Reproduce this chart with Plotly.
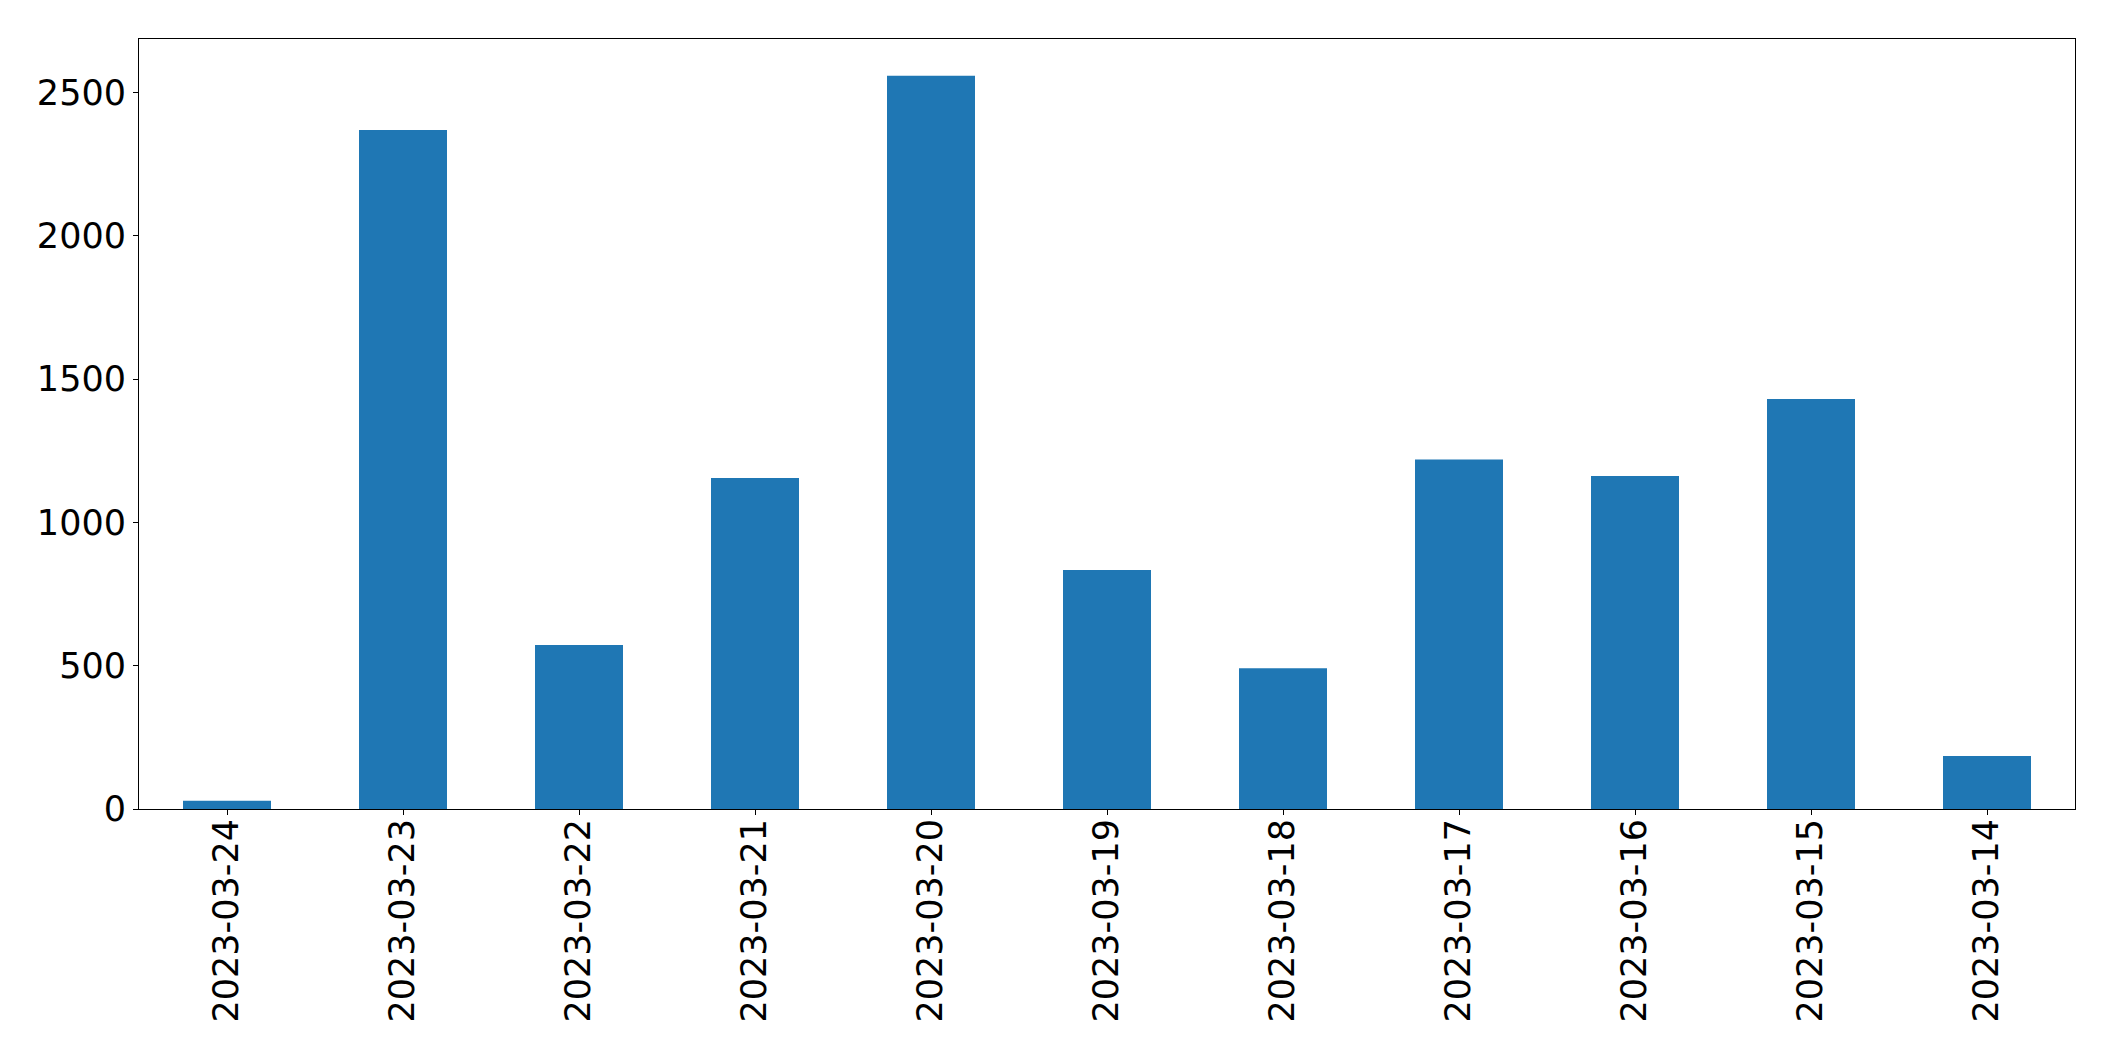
import plotly.graph_objects as go

dates = ["2023-03-24", "2023-03-23", "2023-03-22", "2023-03-21", "2023-03-20",
         "2023-03-19", "2023-03-18", "2023-03-17", "2023-03-16", "2023-03-15",
         "2023-03-14"]
counts = [29, 2369, 572, 1155, 2559, 834, 491, 1220, 1162, 1431, 185]
y_ticks = [0, 500, 1000, 1500, 2000, 2500]

fig = go.Figure(go.Bar(
    x=dates, y=counts, width=0.5,
    marker=dict(color="#1f77b4", line=dict(width=0)),
))

axis_common = dict(
    showline=True, mirror=True, linecolor="black", linewidth=1.1,
    ticks="outside", ticklen=5, tickwidth=1.1, tickcolor="black",
    showgrid=False, zeroline=False,
    tickfont=dict(family="DejaVu Sans", size=35, color="black"),
)

fig.update_layout(
    width=2107, height=1053,
    margin=dict(l=131, r=40, t=31, b=252),
    paper_bgcolor="white", plot_bgcolor="white",
    showlegend=False,
    xaxis=dict(type="category", range=[-0.5, 10.5], tickangle=-90,
               ticklabelstandoff=-10, **axis_common),
    yaxis=dict(range=[0, max(counts) * 1.05], tickvals=y_ticks,
               ticktext=[str(v) for v in y_ticks], **axis_common),
)

fig.write_html("out.html")
